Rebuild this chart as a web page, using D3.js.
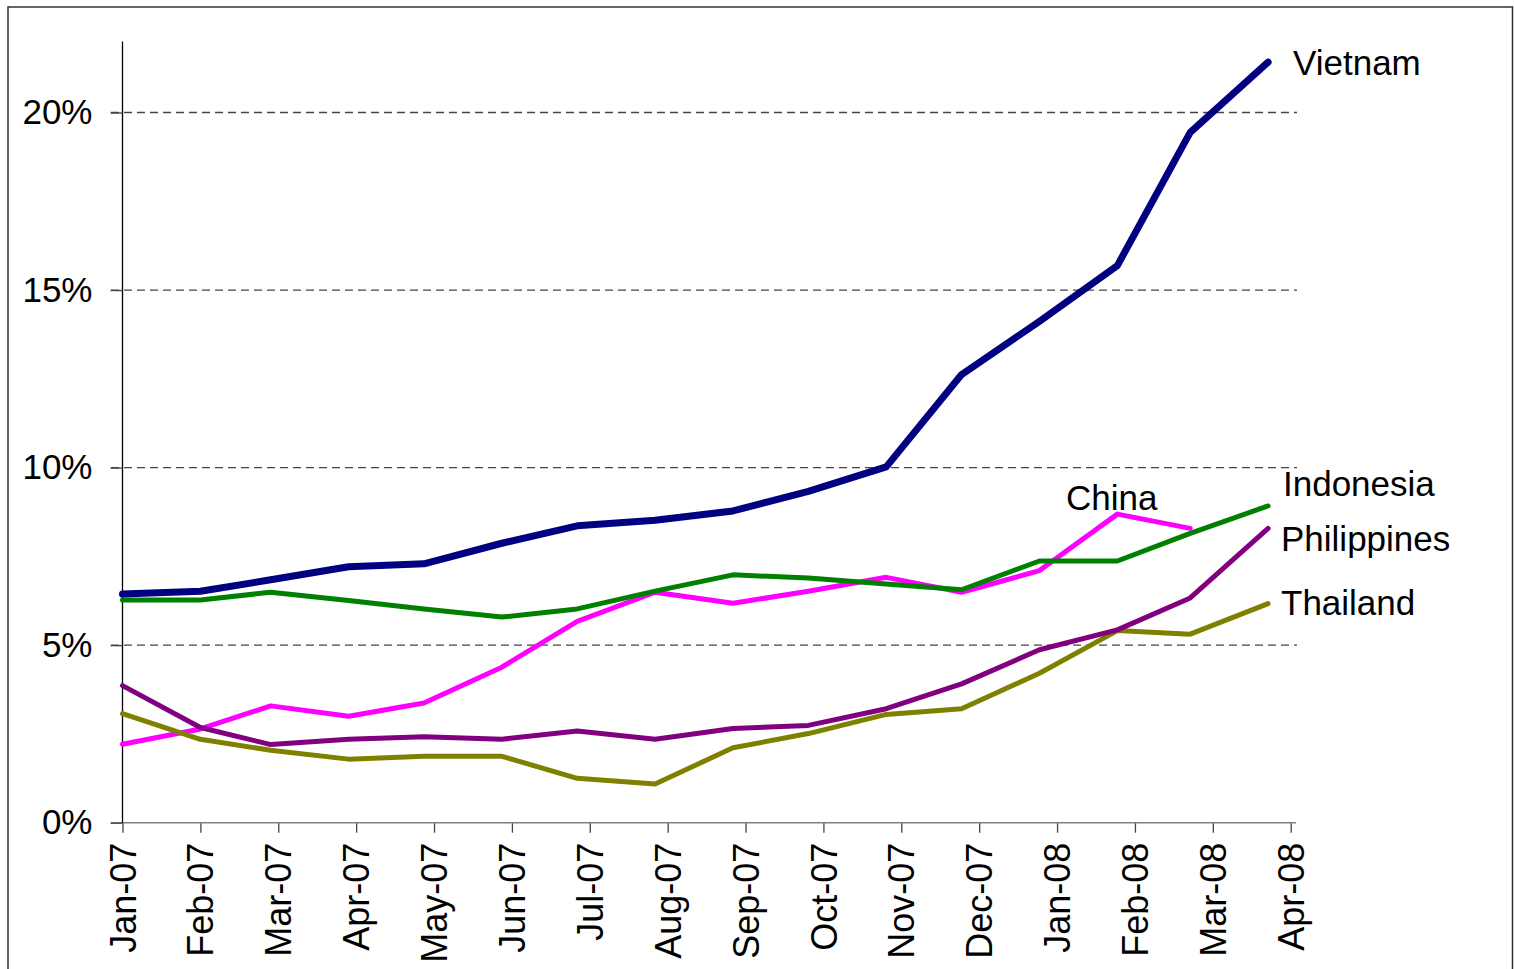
<!DOCTYPE html>
<html>
<head>
<meta charset="utf-8">
<script src="https://cdn.jsdelivr.net/npm/d3@7"></script>
<style>
  body { margin: 0; background: #fff; }
  svg text { font-family: "Liberation Sans", Arial, sans-serif; fill: #000; }
</style>
</head>
<body>
<svg id="chart" width="1514" height="969"></svg>
<script>
// months of the data (first of each month)
var months = ["2007-01", "2007-02", "2007-03", "2007-04", "2007-05", "2007-06", "2007-07", "2007-08",
  "2007-09", "2007-10", "2007-11", "2007-12", "2008-01", "2008-02", "2008-03", "2008-04"];

// inflation, % year on year
var vietnam = [6.44, 6.52, 6.84, 7.21, 7.29, 7.87, 8.36, 8.52, 8.78, 9.33, 10.02, 12.62, 14.12, 15.69, 19.44, 21.42];
var indonesia = [6.27, 6.27, 6.49, 6.26, 6.02, 5.79, 6.02, 6.52, 6.98, 6.89, 6.72, 6.56, 7.37, 7.37, 8.15, 8.92];
var china = [2.21, 2.64, 3.29, 3.00, 3.37, 4.38, 5.67, 6.49, 6.18, 6.52, 6.91, 6.49, 7.10, 8.69, 8.29, null];
var philippines = [3.86, 2.68, 2.20, 2.35, 2.42, 2.35, 2.58, 2.35, 2.65, 2.74, 3.21, 3.91, 4.87, 5.43, 6.33, 8.29];
var thailand = [3.07, 2.35, 2.04, 1.79, 1.87, 1.87, 1.25, 1.09, 2.11, 2.51, 3.05, 3.21, 4.21, 5.41, 5.31, 6.17];

var yTicks = [0, 5, 10, 15, 20];

var svg = d3.select("#chart");
var parse = d3.utcParse("%Y-%m");
var start = parse("2007-01");

// excel date axis: a tick every 31 days
var x = d3.scaleUtc()
  .domain([start, d3.utcDay.offset(start, 465)])
  .range([122.5, 1290.7]);
var y = d3.scaleLinear()
  .domain([0, 22])
  .range([822.7, 41.5]);

var xTicks = d3.range(16).map(function(i) { return d3.utcDay.offset(start, 31 * i); });

// outer frame
svg.append("rect")
  .attr("x", 8).attr("y", 7)
  .attr("width", 1504.5).attr("height", 975)
  .attr("fill", "none").attr("stroke", "#333").attr("stroke-width", 1.5);

// dashed gridlines
svg.selectAll(".grid")
  .data(yTicks.filter(function(d) { return d > 0; }))
  .enter().append("line")
  .attr("x1", 111).attr("x2", 1297)
  .attr("y1", function(d) { return y(d); })
  .attr("y2", function(d) { return y(d); })
  .attr("stroke", "#444").attr("stroke-width", 1.3)
  .attr("stroke-dasharray", "8,5");

// x axis
var xAxis = d3.axisBottom(x)
  .tickValues(xTicks)
  .tickSize(10)
  .tickFormat(d3.utcFormat("%b-%y"));
var gx = svg.append("g")
  .attr("transform", "translate(0," + y(0) + ")")
  .call(xAxis);
gx.select(".domain").remove();
gx.append("line").attr("x1", 111).attr("x2", 1296)
  .attr("stroke", "#808080").attr("stroke-width", 1.5);
gx.selectAll(".tick line").attr("stroke", "#444").attr("stroke-width", 1.3);
gx.selectAll(".tick text")
  .attr("transform", "rotate(-90)")
  .attr("x", -20).attr("y", 0).attr("dy", "0.35em")
  .style("text-anchor", "end")
  .style("font-size", "36px")
  .style("font-family", "'Liberation Sans', Arial, sans-serif");

// y axis
var yAxis = d3.axisLeft(y)
  .tickValues(yTicks)
  .tickSize(12)
  .tickFormat(function(d) { return d + "%"; });
var gy = svg.append("g")
  .attr("transform", "translate(122.5,0)")
  .call(yAxis);
gy.select(".domain").attr("d", "M0," + y(22) + "V" + y(0)).attr("stroke", "#000").attr("stroke-width", 1.3);
gy.selectAll(".tick line").attr("stroke", "#444").attr("stroke-width", 1.3);
gy.selectAll(".tick text")
  .attr("x", -30)
  .style("font-size", "35px")
  .style("font-family", "'Liberation Sans', Arial, sans-serif");

// lines
var line = d3.line()
  .defined(function(d) { return d != null; })
  .x(function(d, i) { return x(parse(months[i])); })
  .y(function(d) { return y(d); });

function drawLine(vals, color, width) {
  svg.append("path")
    .datum(vals)
    .attr("d", line)
    .attr("fill", "none")
    .attr("stroke", color)
    .attr("stroke-width", width)
    .attr("stroke-linejoin", "round")
    .attr("stroke-linecap", "round");
}

drawLine(china, "#ff00ff", 5);
drawLine(thailand, "#808000", 5);
drawLine(philippines, "#800080", 5);
drawLine(indonesia, "#008000", 5);
drawLine(vietnam, "#000080", 7);

// series labels
var labels = [
  {name: "Vietnam", x: 1293, y: 75},
  {name: "Indonesia", x: 1283, y: 496},
  {name: "China", x: 1066, y: 510},
  {name: "Philippines", x: 1281, y: 551},
  {name: "Thailand", x: 1281, y: 615}
];
svg.selectAll(".lbl")
  .data(labels)
  .enter().append("text")
  .attr("x", function(d) { return d.x; })
  .attr("y", function(d) { return d.y; })
  .style("font-size", "35px")
  .text(function(d) { return d.name; });
</script>
</body>
</html>
